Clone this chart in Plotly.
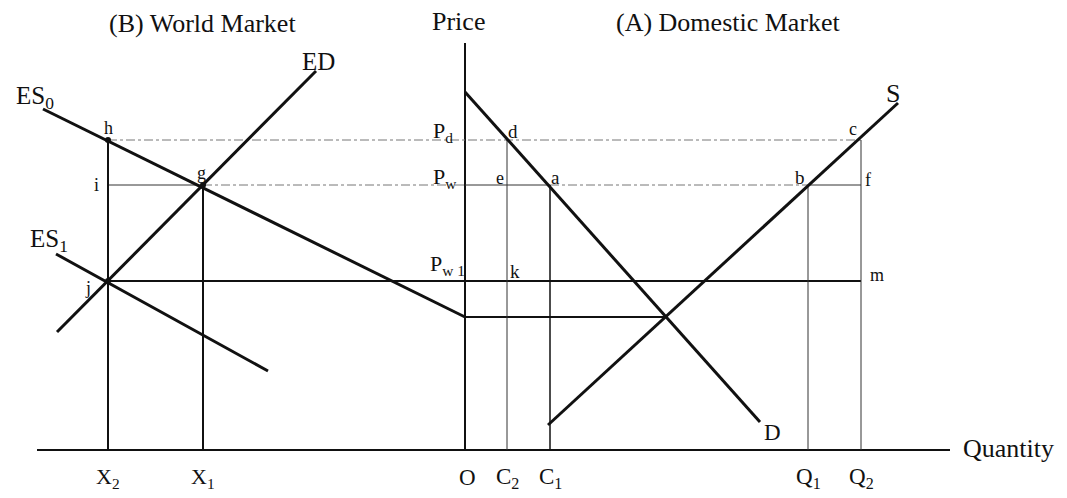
import plotly.graph_objects as go

# ---- Diagram values (quantity: + domestic, - world; price up from origin O) ----
# price levels
P_top = 407
P_d = 310
P_w = 265
P_w1 = 169
P_e = 133
# quantities
Q_left = -428
Q_right = 485
X2 = -357
X1 = -262
C2 = 42
C1 = 85
Q1 = 343
Q2 = 396
Q_e = 200

# curves (endpoints)
D_q = [0, 295]
D_p = [358, 28]
S_q = [83, 433]
S_p = [25, 347]
ES0_q = [-422, 0]
ES0_p = [341, P_e]
ES1_q = [-409, -197]
ES1_p = [196, 79]
ED_q = [-408, -149]
ED_p = [118, 379]

BLACK = "#111111"
GRAY = "#777777"
FONT = "Liberation Serif"

fig = go.Figure()


def seg(xs, ys, width, color=BLACK, dash="solid"):
    fig.add_trace(go.Scatter(x=xs, y=ys, mode="lines",
                             line=dict(color=color, width=width, dash=dash),
                             hoverinfo="skip", showlegend=False))


# axes
seg([Q_left, Q_right], [0, 0], 2)
seg([0, 0], [0, P_top], 2)

# dashed price lines
seg([X2, Q2], [P_d, P_d], 1, GRAY, "dashdot")
seg([X1, 0], [P_w, P_w], 1, GRAY, "dashdot")
seg([X2, X1], [P_w, P_w], 1, "#333333")
seg([0, C1], [P_w, P_w], 1, "#333333")
seg([C1, Q1], [P_w, P_w], 1, GRAY, "dashdot")
seg([Q1, Q2], [P_w, P_w], 1, "#333333")

# world price after and equilibrium line
seg([X2, Q2], [P_w1, P_w1], 2)
seg([0, Q_e], [P_e, P_e], 2)

# verticals
seg([X2, X2], [0, P_d], 2)
seg([X1, X1], [0, P_w], 2)
seg([C2, C2], [0, P_d], 1, "#333333")
seg([C1, C1], [0, P_w], 1.5)
seg([Q1, Q1], [0, P_w], 1, "#333333")
seg([Q2, Q2], [0, P_d], 1, "#333333")

# curves
seg(D_q, D_p, 3)
seg(S_q, S_p, 3)
seg(ES0_q, ES0_p, 3)
seg(ES1_q, ES1_p, 3)
seg(ED_q, ED_p, 3)

# points
fig.add_trace(go.Scatter(x=[X2, X1, X2], y=[P_d, P_w, P_w1], mode="markers",
                         marker=dict(color=BLACK, size=6), hoverinfo="skip",
                         showlegend=False))

labels = [
    ("(B) World Market", -263, 427, 26),
    ("Price", -7, 429, 26),
    ("(A) Domestic Market", 263, 428, 26),
    ("ED", -147, 389, 25),
    ("ES<sub>0</sub>", -430, 353, 25),
    ("ES<sub>1</sub>", -416, 210, 25),
    ("h", -357, 322, 18),
    ("g", -264, 277, 18),
    ("i", -369, 265, 18),
    ("j", -377, 162, 18),
    ("P<sub>d</sub>", -22, 318, 22),
    ("d", 48, 319, 19),
    ("P<sub>w</sub>", -20, 272, 22),
    ("e", 35, 272, 18),
    ("a", 90, 273, 19),
    ("P<sub>w 1</sub>", -18, 185, 22),
    ("k", 50, 179, 19),
    ("b", 335, 273, 19),
    ("c", 388, 321, 18),
    ("f", 403, 270, 18),
    ("m", 412, 175, 18),
    ("S", 428, 357, 26),
    ("D", 307, 18, 23),
    ("Quantity", 543, 2, 26),
    ("X<sub>2</sub>", X2, -28, 22),
    ("X<sub>1</sub>", X1, -28, 22),
    ("O", 2, -27, 23),
    ("C<sub>2</sub>", C2, -28, 23),
    ("C<sub>1</sub>", C1, -28, 23),
    ("Q<sub>1</sub>", Q1, -28, 23),
    ("Q<sub>2</sub>", Q2, -28, 23),
]
for txt, x, y, sz in labels:
    fig.add_annotation(x=x, y=y, text=txt, showarrow=False,
                       font=dict(family=FONT, size=sz, color=BLACK),
                       xanchor="center", yanchor="middle")

fig.update_layout(
    width=1067, height=498,
    margin=dict(l=0, r=0, t=0, b=0),
    paper_bgcolor="white", plot_bgcolor="white",
    xaxis=dict(range=[-465, 602], visible=False, fixedrange=True),
    yaxis=dict(range=[-48, 450], visible=False, fixedrange=True),
)

fig.write_html("out.html",
               config={"displayModeBar": False, "staticPlot": True},
               post_script="document.body.style.margin='0';document.body.style.overflow='hidden';")
